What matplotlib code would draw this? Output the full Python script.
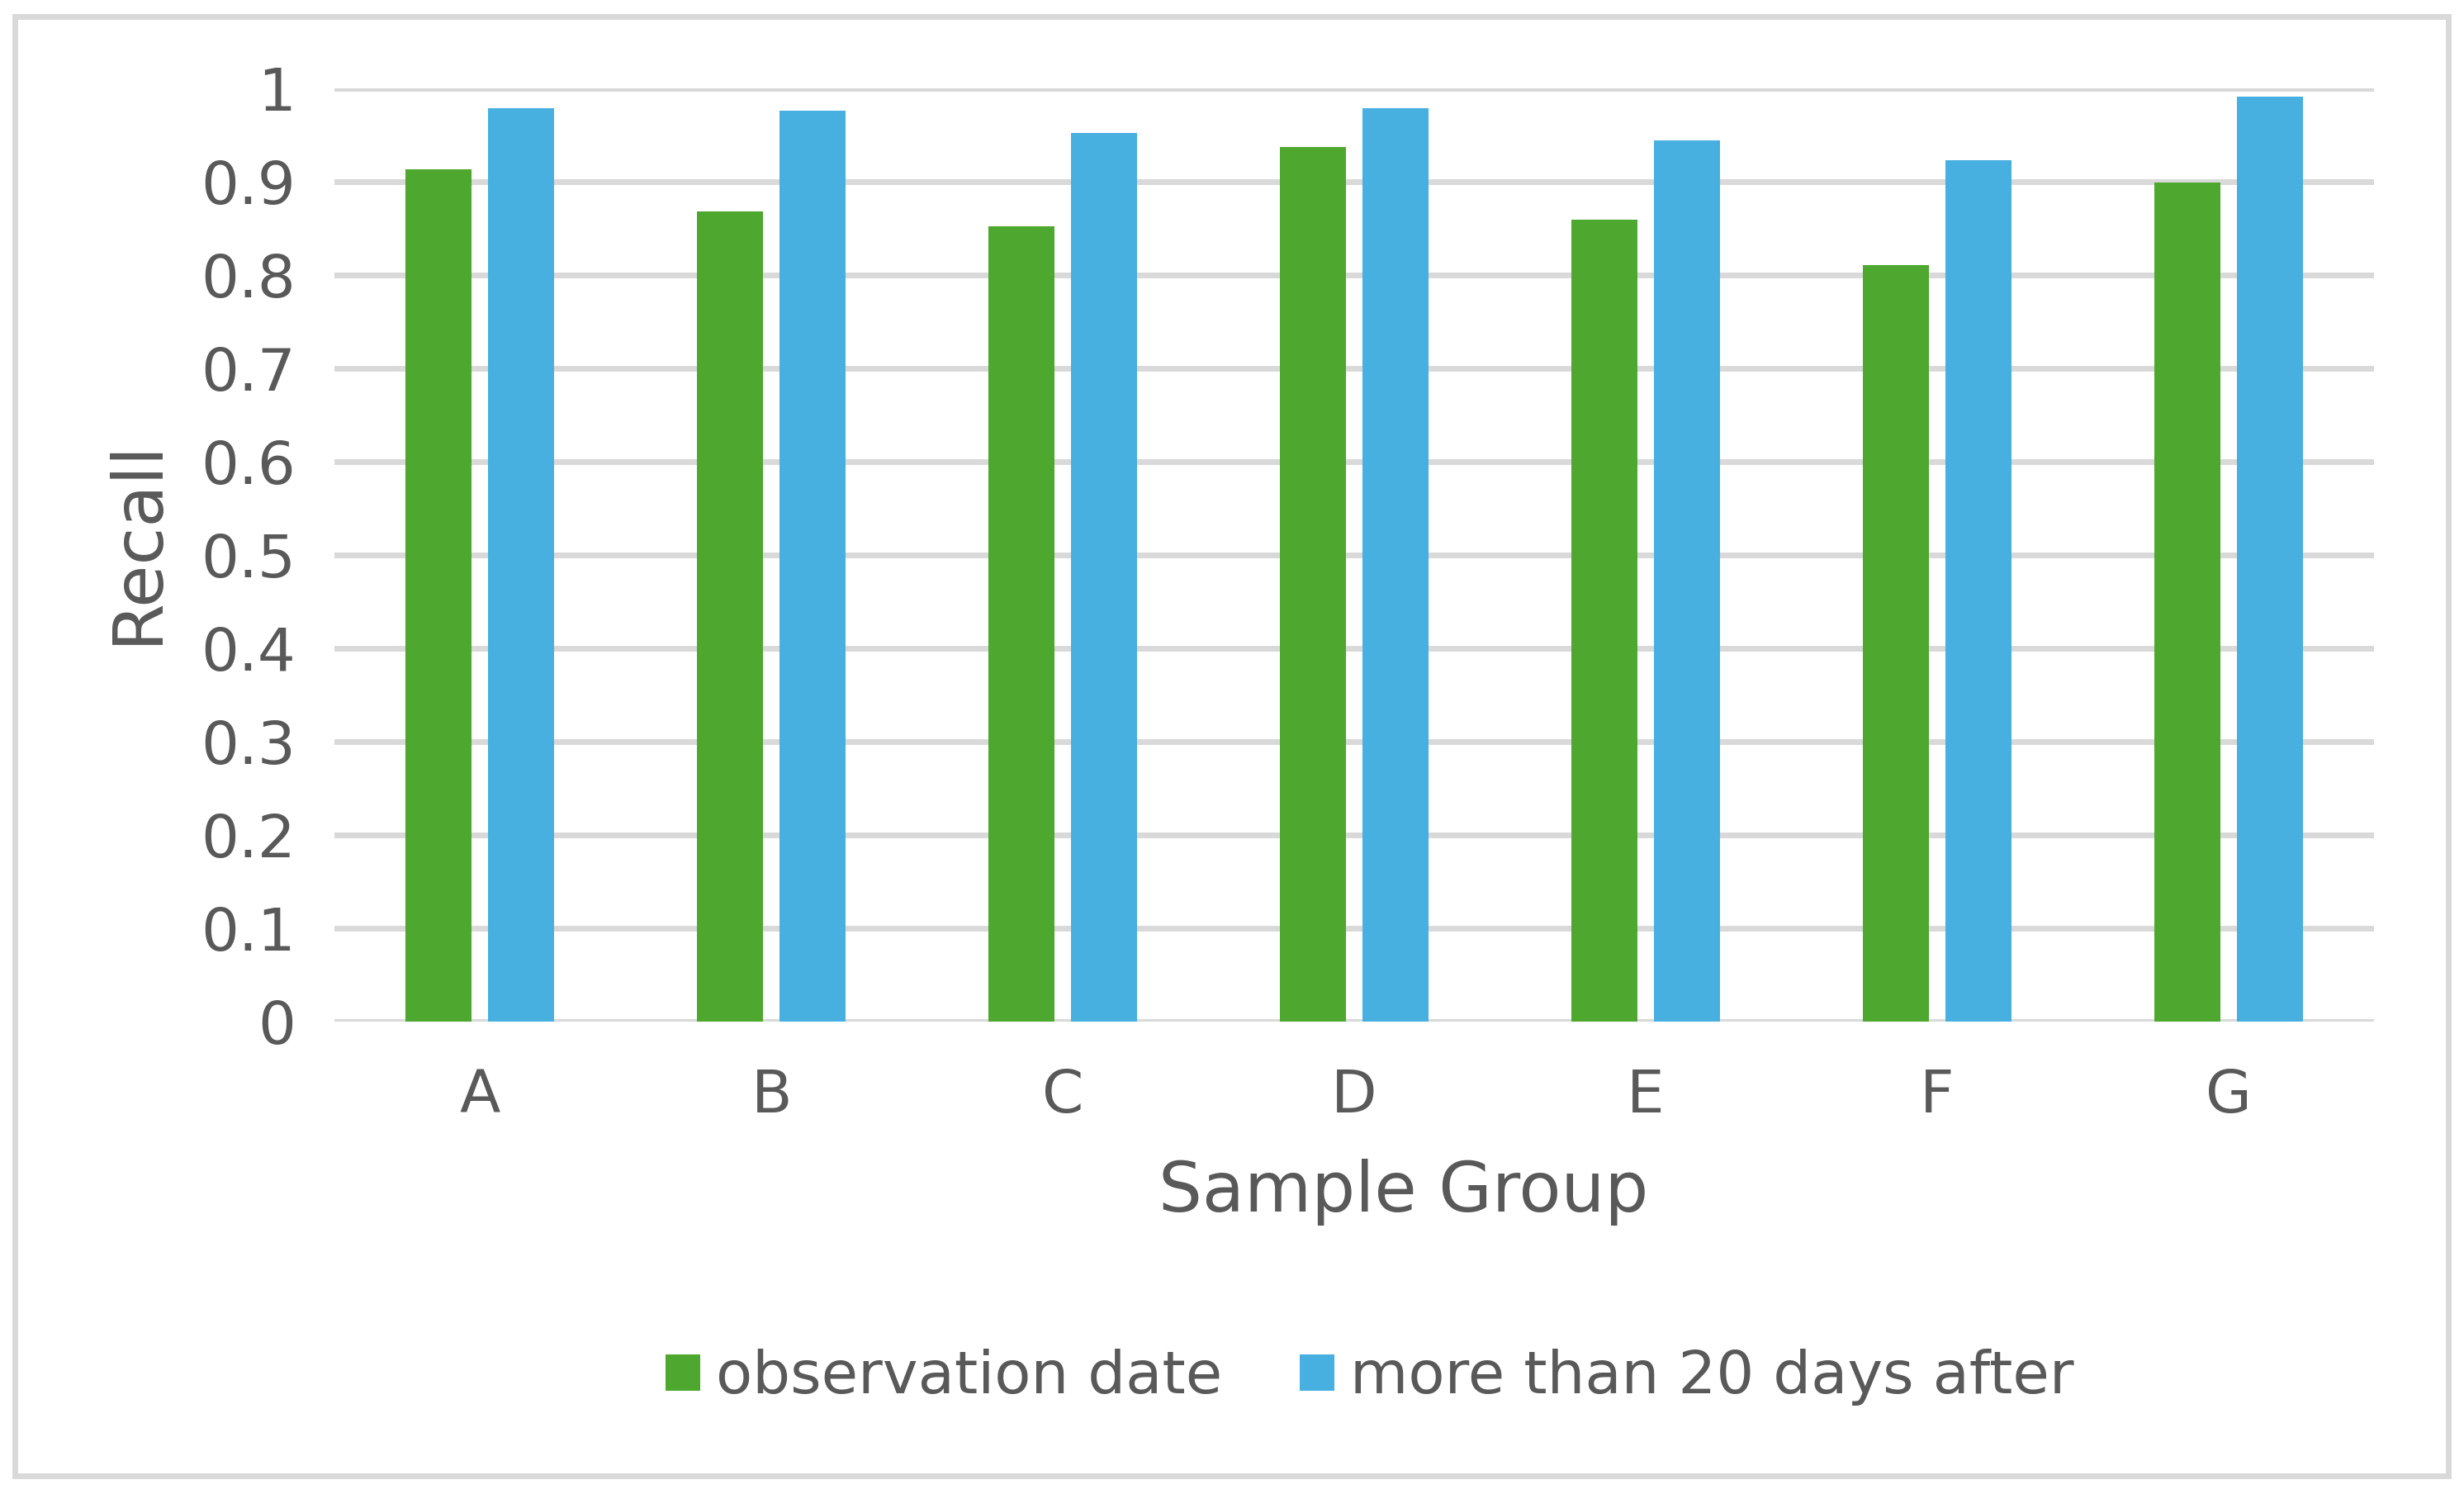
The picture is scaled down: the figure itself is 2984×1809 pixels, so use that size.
import matplotlib

matplotlib.use("Agg")
import matplotlib.pyplot as plt  # noqa: E402
import numpy as np               # noqa: E402
from matplotlib.patches import Patch, Rectangle  # noqa: E402
from matplotlib.ticker import FuncFormatter, MultipleLocator  # noqa: E402

groups = ["A", "B", "C", "D", "E", "F", "G"]
obs_date = [0.913, 0.868, 0.852, 0.937, 0.859, 0.811, 0.899]
after_20d = [0.979, 0.976, 0.952, 0.979, 0.944, 0.923, 0.991]
series_names = ["observation date", "more than 20 days after"]

GREEN = "#4EA72E"
BLUE = "#47B0E0"
GRID = "#D9D9D9"
TXT = "#595959"

W, H = 2984, 1809
fig = plt.figure(figsize=(W / 100, H / 100), dpi=100)
fig.patch.set_facecolor("white")

# plot area in pixels: x 405..2875, y 107..1237 (from top)
ax = fig.add_axes([405 / W, 1 - 1237 / H, (2875 - 405) / W, (1237 - 107) / H])

x = np.arange(len(groups))
bw = 0.227
off = 0.1417
ax.bar(x - off, obs_date, bw, color=GREEN, zorder=3)
ax.bar(x + off, after_20d, bw, color=BLUE, zorder=3)

ax.set_xlim(-0.5, len(groups) - 0.5)
ax.set_ylim(0, 1)
ax.yaxis.set_major_locator(MultipleLocator(0.1))
ax.yaxis.set_major_formatter(FuncFormatter(lambda v, _: f"{round(v, 1):g}"))
ax.set_xticks(x)
ax.set_xticklabels(groups)
ax.grid(axis="y", color=GRID, lw=5, zorder=0)
ax.set_axisbelow(True)
for s in ax.spines.values():
    s.set_visible(False)
ax.tick_params(axis="both", length=0, labelsize=52, labelcolor=TXT)
ax.tick_params(axis="y", pad=34)
ax.tick_params(axis="x", pad=40)

fig.text(1700 / W, 1 - 1444 / H, "Sample Group", fontsize=60, color=TXT,
         ha="center", va="center")
fig.text(166 / W, 1 - 655 / H, "Recall", fontsize=60, color=TXT,
         ha="center", va="center", rotation=90)

handles = [Patch(facecolor=GREEN), Patch(facecolor=BLUE)]
fig.legend(handles, series_names, loc="center", ncol=2,
           bbox_to_anchor=(1659 / W, 1 - 1668 / H), frameon=False,
           fontsize=52, labelcolor=TXT, handlelength=0.58, handleheight=0.58,
           handletextpad=0.26, columnspacing=1.3, borderpad=0)

fig.patches.append(Rectangle((17.5 / W, 1 - 1787 / H), (2965 - 17.5) / W,
                             (1787 - 20) / H, transform=fig.transFigure,
                             fill=False, edgecolor=GRID, lw=5))

fig.savefig("out.png", dpi=100)
